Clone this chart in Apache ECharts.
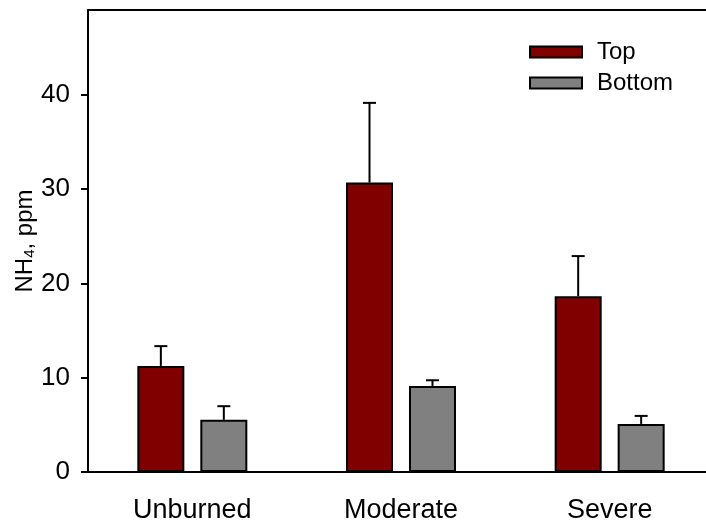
<!DOCTYPE html>
<html><head><meta charset="utf-8">
<script src="https://cdn.jsdelivr.net/npm/echarts@6/dist/echarts.min.js"></script>
<style>html,body{margin:0;padding:0;background:#fff}#c{width:706px;height:526px}</style>
</head><body><div id="c"></div>
<script>
const categories = ['Unburned', 'Moderate', 'Severe'];
const topValues = [11.25, 30.7, 18.65];
const topErrors = [2.1, 8.45, 4.25];
const bottomValues = [5.53, 9.13, 5.1];
const bottomErrors = [1.45, 0.6, 0.85];
const yTicks = [0, 10, 20, 30, 40];

const FONT = 'Liberation Sans, Arial, sans-serif';
const BAR_W = 47;
const BAR_GAP = 0.34;
const halfStep = (BAR_W + BAR_W * BAR_GAP) / 2;

function errSeries(values, errors, offset) {
  return {
    type: 'custom',
    silent: true,
    z: 5,
    data: values.map((v, i) => [i, v, errors[i]]),
    renderItem: function (params, api) {
      const base = api.coord([api.value(0), api.value(1)]);
      const top = api.coord([api.value(0), api.value(1) + api.value(2)]);
      const x = base[0] + offset;
      const st = { stroke: '#000', lineWidth: 2 };
      return {
        type: 'group',
        children: [
          { type: 'line', shape: { x1: x, y1: base[1], x2: x, y2: top[1] }, style: st },
          { type: 'line', shape: { x1: x - 6.5, y1: top[1], x2: x + 6.5, y2: top[1] }, style: st }
        ]
      };
    }
  };
}

const chart = echarts.init(document.getElementById('c'));
chart.setOption({
  animation: false,
  backgroundColor: '#fff',
  grid: { left: 88, width: 626, top: 10, height: 462, outerBoundsMode: 'none', containLabel: false },
  legend: {
    data: ['Top', 'Bottom'],
    orient: 'vertical',
    left: 529, top: 40, padding: 0,
    itemWidth: 52, itemHeight: 11, itemGap: 7,
    icon: 'rect',
    textStyle: { fontFamily: FONT, fontSize: 24, color: '#000', padding: [0, 0, 0, 10] }
  },
  xAxis: [{
    type: 'category', data: categories,
    axisLine: { lineStyle: { color: '#000', width: 2 } },
    axisTick: { alignWithLabel: true, length: 6, lineStyle: { color: '#000', width: 1.5 } },
    axisLabel: { fontFamily: FONT, fontSize: 27, color: '#000', margin: 25 }
  }, {
    type: 'category', data: categories, position: 'top',
    axisLine: { lineStyle: { color: '#000', width: 2 } },
    axisTick: { show: false }, axisLabel: { show: false }
  }],
  yAxis: {
    type: 'value', min: 0, max: 49,
    splitLine: { show: false },
    axisLine: { show: true, lineStyle: { color: '#000', width: 2 } },
    axisTick: { show: true, length: 7, customValues: yTicks, lineStyle: { color: '#000', width: 2 } },
    axisLabel: { fontFamily: FONT, fontSize: 26, color: '#000', margin: 18, customValues: yTicks },
    name: '{a|NH}{s|4}{a|, ppm}',
    nameLocation: 'middle', nameRotate: 90, nameGap: 51, nameMoveOverlap: false,
    nameTextStyle: {
      rich: {
        a: { fontFamily: FONT, fontSize: 24, color: '#000', lineHeight: 30, verticalAlign: 'bottom' },
        s: { fontFamily: FONT, fontSize: 15, color: '#000', lineHeight: 22, verticalAlign: 'bottom' }
      }
    }
  },
  series: [
    { name: 'Top', type: 'bar', data: topValues, barWidth: BAR_W, barGap: (BAR_GAP * 100) + '%',
      itemStyle: { color: '#800000', borderColor: '#000', borderWidth: 2 } },
    { name: 'Bottom', type: 'bar', data: bottomValues, barWidth: BAR_W, barGap: (BAR_GAP * 100) + '%',
      itemStyle: { color: '#808080', borderColor: '#000', borderWidth: 2 } },
    errSeries(topValues, topErrors, -halfStep),
    errSeries(bottomValues, bottomErrors, halfStep)
  ]
});
</script>
</body></html>
